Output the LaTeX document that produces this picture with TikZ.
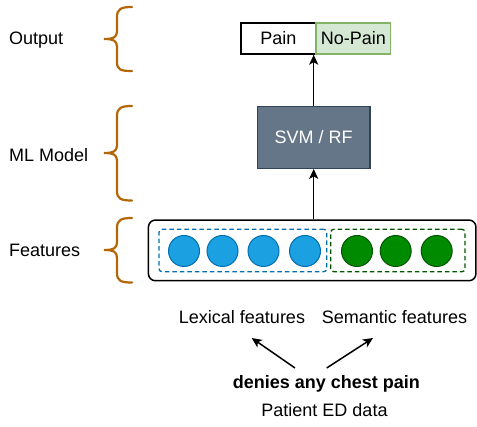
\documentclass[tikz,border=0pt]{standalone}
\usepackage{fontspec}
\setmainfont{Liberation Sans}
\usetikzlibrary{arrows.meta}
\definecolor{bluef}{HTML}{1BA1E2}
\definecolor{blues}{HTML}{006EAF}
\definecolor{greenf}{HTML}{008A00}
\definecolor{greens}{HTML}{005700}
\definecolor{npf}{HTML}{D5E8D4}
\definecolor{nps}{HTML}{82B366}
\definecolor{svmf}{HTML}{647687}
\definecolor{svms}{HTML}{314354}
\definecolor{bracec}{HTML}{B46504}
\begin{document}
\begin{tikzpicture}[x=1pt,y=-1pt,
  every node/.style={font=\fontsize{18}{21}\selectfont, inner sep=0pt},
  label/.style={anchor=west},
  box/.style={draw, rectangle, line width=1.4pt},
  bcirc/.style={circle, draw=blues, fill=bluef, line width=1pt, minimum size=31pt},
  gcirc/.style={circle, draw=greens, fill=greenf, line width=1pt, minimum size=31pt},
  dbox/.style={rectangle, rounded corners=3pt, line width=1.3pt, dash pattern=on 4.5pt off 3pt},
  brc/.style={draw=bracec, line width=2.2pt, line cap=round},
  arr/.style={-{Stealth[length=10pt,width=9pt,inset=2.5pt]}, line width=1.5pt}
]
\useasboundingbox (0,0) rectangle (477,427);

% braces
\path[brc] (132,7) .. controls (121,7) and (117,9) .. (117,17) -- (117,31)
  .. controls (117,37) and (114,39) .. (104,39)
  .. controls (114,39) and (117,41) .. (117,47) -- (117,62)
  .. controls (117,70) and (121,71) .. (132,71);
\path[brc] (132,106) .. controls (121,106) and (117,108) .. (117,116) -- (117,145)
  .. controls (117,151) and (114,153) .. (104,153)
  .. controls (114,153) and (117,155) .. (117,161) -- (117,191)
  .. controls (117,199) and (121,200.5) .. (132,200.5);
\path[brc] (132,218) .. controls (121,218) and (117,220) .. (117,228) -- (117,242)
  .. controls (117,248) and (114,250) .. (104,250)
  .. controls (114,250) and (117,252) .. (117,258) -- (117,273)
  .. controls (117,281) and (121,282.5) .. (132,282.5);

% labels
\node[label] (lout) at (9,40.5) {Output};
\node[label] (lml) at (9,155) {ML Model};
\node[label] (lfeat) at (9,250) {Features};

% output
\node[box, minimum width=74.7pt, minimum height=31pt] (pain) at (278.4,38.5) {Pain};
\node[box, draw=nps, fill=npf, minimum width=74.7pt, minimum height=31pt] (nopain) at (353.4,38.5) {No-Pain};

% svm
\node[rectangle, draw=svms, fill=svmf, line width=1.2pt, text=white, minimum width=112.7pt, minimum height=61.6pt] (svm) at (313.7,137.5) {SVM / RF};

% features
\node[draw, rectangle, rounded corners=7pt, line width=1.5pt, minimum width=327.5pt, minimum height=60.7pt] (feat) at (312.2,250.4) {};
\node[dbox, draw=blues, minimum width=167.7pt, minimum height=42.4pt] (lexbox) at (242.9,250.5) {};
\node[dbox, draw=greens, minimum width=134.3pt, minimum height=42.4pt] (sembox) at (397.9,250.5) {};
\node[bcirc] (b1) at (184,251) {};
\node[bcirc] (b2) at (222.5,251) {};
\node[bcirc] (b3) at (263.5,251) {};
\node[bcirc] (b4) at (305,251) {};
\node[gcirc] (g1) at (357,251) {};
\node[gcirc] (g2) at (395.7,251) {};
\node[gcirc] (g3) at (436.7,251) {};

% connectors
\draw[arr] (svm.north) -- (svm.north |- pain.south);
\draw[arr] (svm.south |- feat.north) -- (svm.south);

% bottom
\node (lex) at (242,317) {Lexical features};
\node (sem) at (394.5,317) {Semantic features};
\node[font=\fontsize{18}{21}\selectfont\bfseries] (den) at (326.3,384) {denies any chest pain};
\node (ped) at (324.5,410) {Patient ED data};
\coordinate (la) at (295,368);
\coordinate (lb) at (251.7,338);
\coordinate (ra) at (326.7,368);
\coordinate (rb) at (373,338);
\draw[arr] (la) -- (lb);
\draw[arr] (ra) -- (rb);
\end{tikzpicture}
\end{document}
